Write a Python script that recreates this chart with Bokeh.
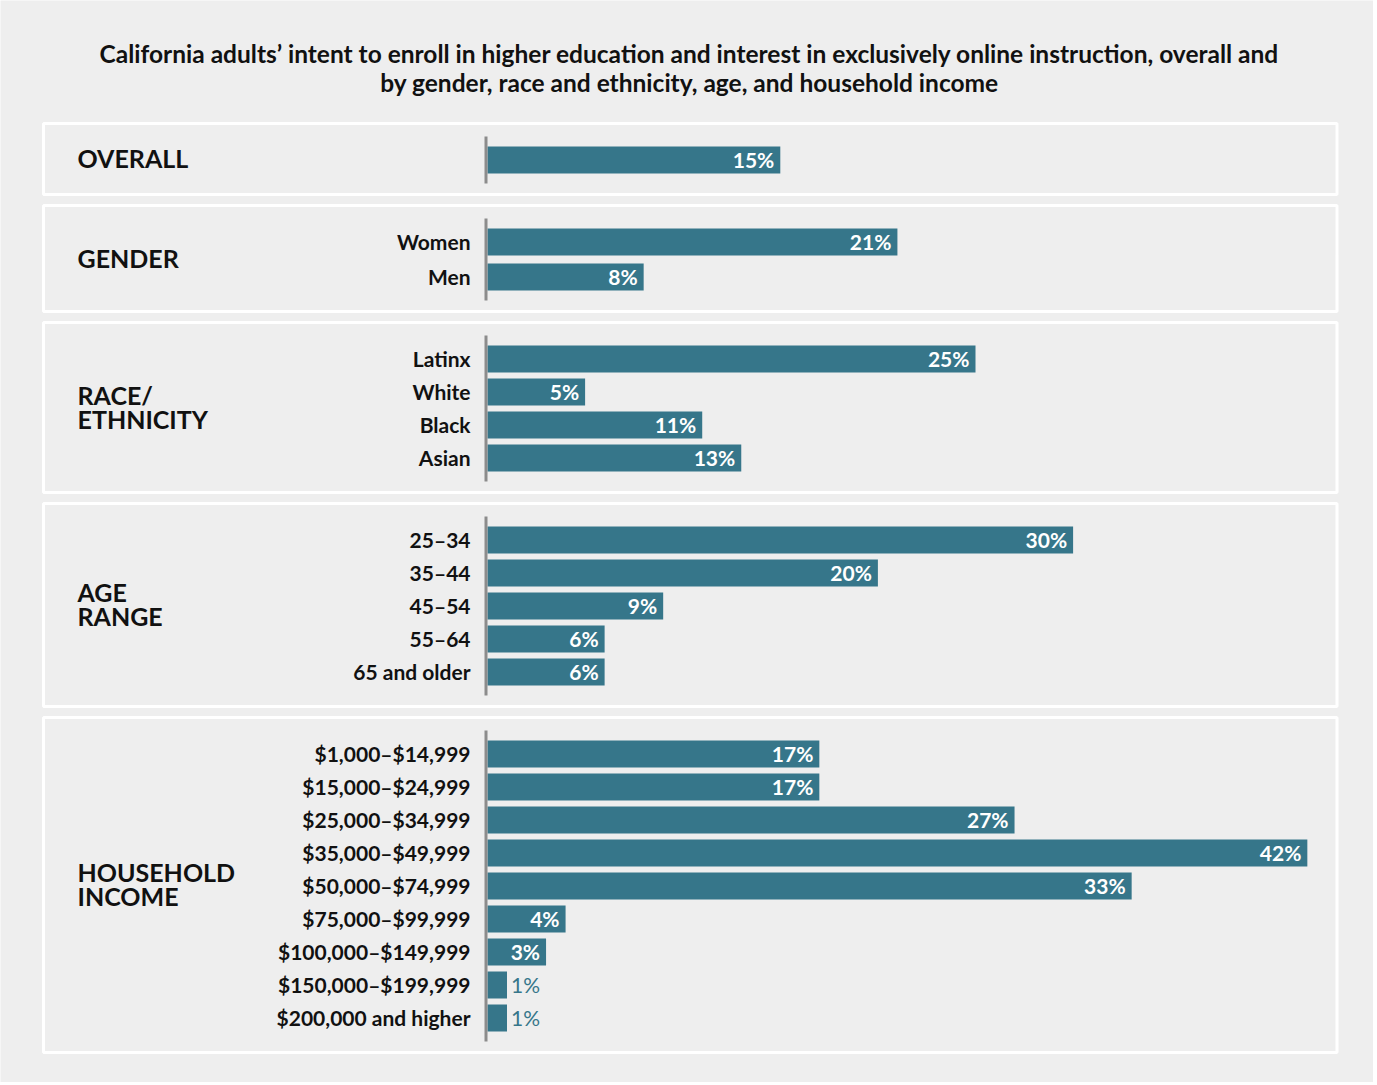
from bokeh.plotting import figure
from bokeh.models import Range1d, ColumnDataSource
from bokeh.core.properties import value
from bokeh.embed import file_html
from bokeh.resources import INLINE

# ---------------- data ----------------
title_lines = [
    "California adults’ intent to enroll in higher education and interest in exclusively online instruction, overall and",
    "by gender, race and ethnicity, age, and household income",
]
group_names = ["OVERALL", "GENDER", "RACE/\nETHNICITY", "AGE\nRANGE", "HOUSEHOLD\nINCOME"]

overall_labels = [""]
overall_values = [15]

gender_labels = ["Women", "Men"]
gender_values = [21, 8]

race_labels = ["Latinx", "White", "Black", "Asian"]
race_values = [25, 5, 11, 13]

age_labels = ["25–34", "35–44", "45–54", "55–64", "65 and older"]
age_values = [30, 20, 9, 6, 6]

income_labels = ["$1,000–$14,999", "$15,000–$24,999", "$25,000–$34,999", "$35,000–$49,999",
                 "$50,000–$74,999", "$75,000–$99,999", "$100,000–$149,999", "$150,000–$199,999",
                 "$200,000 and higher"]
income_values = [17, 17, 27, 42, 33, 4, 3, 1, 1]

groups = [
    (group_names[0], overall_labels, overall_values),
    (group_names[1], gender_labels, gender_values),
    (group_names[2], race_labels, race_values),
    (group_names[3], age_labels, age_values),
    (group_names[4], income_labels, income_values),
]

# ---------------- style / layout ----------------
BG = "#eeeeee"
BAR = "#36768a"
AXIS = "#8c8c8c"
TXT = "#111111"
FONT = "Lato"

W, H = 1373, 1082
S = 19.52                      # px per percent
X0 = -487 / S                  # page x 487 is zero


def px(x):
    return X0 + x / S


p = figure(width=W, height=H, x_range=Range1d(X0, X0 + W / S), y_range=Range1d(H, 0),
           output_backend="svg", toolbar_location=None, x_axis_type=None, y_axis_type=None,
           min_border=0, outline_line_color=None, background_fill_color=BG, border_fill_color=BG)
p.xgrid.visible = False
p.ygrid.visible = False

BAR_H = 27
TOP_PAD = 23
BOT_PAD = 21
GAP = 11

bar_y, bar_v, cat_lab = [], [], []
pan_top, pan_bot = [], []
grp_line_y, grp_line_txt = [], []
ax_y0, ax_y1 = [], []

cursor = 123
for name, labels, vals in groups:
    step = 35 if len(vals) == 2 else 33
    top = cursor
    first = top + TOP_PAD + BAR_H / 2
    centers = [first + i * step for i in range(len(vals))]
    bottom = centers[-1] + BAR_H / 2 + BOT_PAD
    bar_y += centers
    bar_v += vals
    cat_lab += labels
    pan_top.append(top)
    pan_bot.append(bottom)
    mid = (top + bottom) / 2
    lines = name.split("\n")
    for k, ln in enumerate(lines):
        grp_line_y.append(mid + (k - (len(lines) - 1) / 2) * 24)
        grp_line_txt.append(ln)
    ax_y0.append(first - BAR_H / 2 - 10)
    ax_y1.append(centers[-1] + BAR_H / 2 + 10)
    cursor = bottom + GAP

# panels
p.quad(left=px(43), right=px(1336.5), top=pan_top, bottom=pan_bot,
       fill_color=None, line_color="white", line_width=3)

# bars
src = ColumnDataSource(dict(y=bar_y, v=bar_v, lab=cat_lab))
p.hbar(y="y", left=0, right="v", height=BAR_H, source=src, fill_color=BAR, line_color=None)

# zero axis lines
p.segment(x0=px(485.5), x1=px(485.5), y0=ax_y0, y1=ax_y1, line_color=AXIS, line_width=3)

# category labels
p.text(x=px(470), y="y", text="lab", source=src, text_align="right", text_baseline="middle",
       y_offset=-1, text_font=value(FONT), text_font_style="bold", text_font_size="21px",
       text_color=TXT)

# value labels
inside = [i for i, v in enumerate(bar_v) if v >= 2]
outside = [i for i, v in enumerate(bar_v) if v < 2]
src_in = ColumnDataSource(dict(y=[bar_y[i] for i in inside], v=[bar_v[i] for i in inside],
                               txt=[f"{bar_v[i]}%" for i in inside]))
src_out = ColumnDataSource(dict(y=[bar_y[i] for i in outside], v=[bar_v[i] for i in outside],
                                txt=[f"{bar_v[i]}%" for i in outside]))
p.text(x="v", y="y", text="txt", source=src_in, x_offset=-6, y_offset=-1, text_align="right",
       text_baseline="middle", text_font=value(FONT), text_font_size="21px",
       text_font_style="bold", text_color="white")
p.text(x="v", y="y", text="txt", source=src_out, x_offset=4, y_offset=-1, text_align="left",
       text_baseline="middle", text_font=value(FONT), text_font_size="21px",
       text_color=BAR)

# group labels
p.text(x=px(77), y=grp_line_y, text=grp_line_txt, text_align="left", text_baseline="middle",
       y_offset=-1, text_font=value(FONT), text_font_style="bold", text_font_size="25px",
       text_color=TXT)

# title
p.text(x=px(689), y=[54, 83], text=title_lines, text_align="center", text_baseline="middle",
       y_offset=-1, text_font=value(FONT), text_font_style="bold", text_font_size="24.5px",
       text_color=TXT)

open("out.html", "w").write(file_html(p, INLINE))
